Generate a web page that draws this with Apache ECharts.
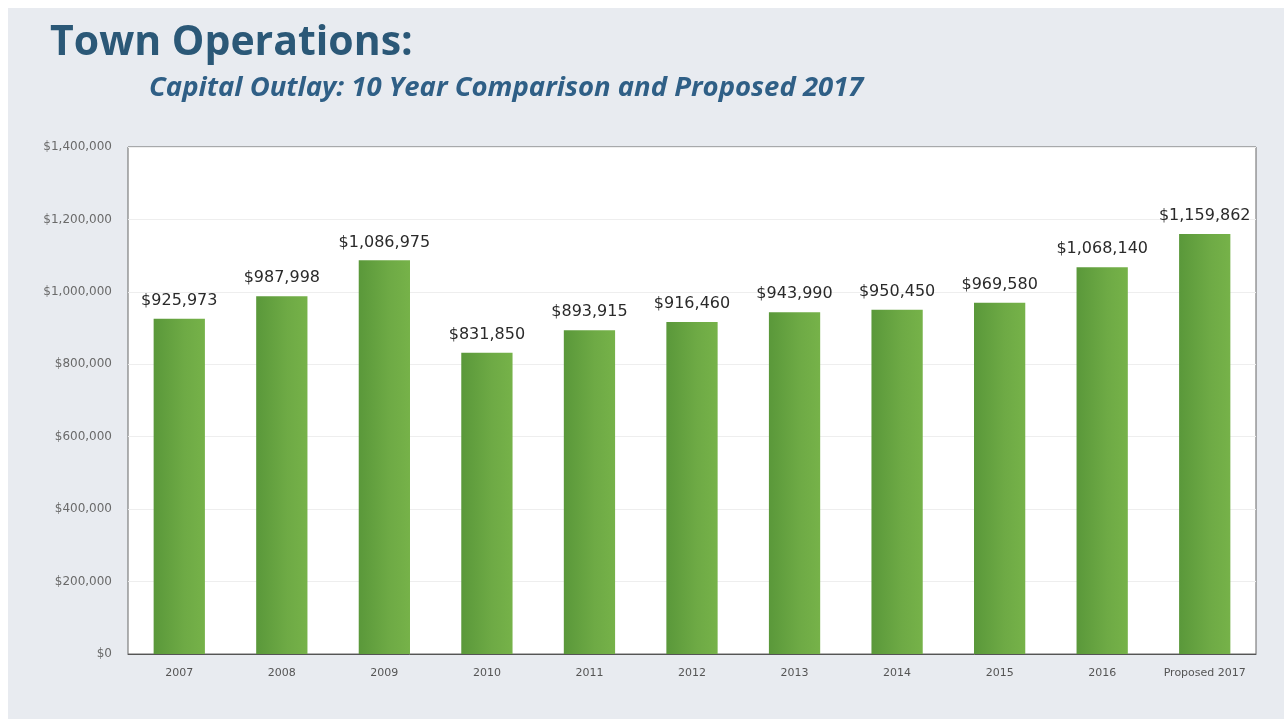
<!DOCTYPE html>
<html>
<head>
<meta charset="utf-8">
<script src="https://cdn.jsdelivr.net/npm/echarts@6/dist/echarts.min.js"></script>
<style>
  html, body { margin: 0; padding: 0; background: #ffffff; }
  #chart { width: 1284px; height: 719px; }
</style>
</head>
<body>
<div id="chart"></div>
<script>
// Capital outlay by year, with the proposed 2017 figure
const categories = ['2007', '2008', '2009', '2010', '2011', '2012', '2013', '2014', '2015', '2016', 'Proposed 2017'];
const outlay = [925973, 987998, 1086975, 831850, 893915, 916460, 943990, 950450, 969580, 1068140, 1159862];
const yTicks = [0, 200000, 400000, 600000, 800000, 1000000, 1200000, 1400000];

const money = v => '$' + v.toLocaleString('en-US');

const chart = echarts.init(document.getElementById('chart'), null, { renderer: 'canvas' });

chart.setOption({
  backgroundColor: '#ffffff',
  animation: false,
  graphic: [
    // slide-style panel behind the chart
    { type: 'rect', z: -10, shape: { x: 8, y: 8, width: 1276, height: 711 }, style: { fill: '#e8ebf0' } }
  ],
  title: [
    {
      text: 'Town Operations:',
      left: 45, top: 18,
      textStyle: { fontFamily: 'Open Sans', fontWeight: 'bold', fontSize: 41, color: '#2b5877' }
    },
    {
      text: 'Capital Outlay: 10 Year Comparison and Proposed 2017',
      left: 144, top: 70,
      textStyle: { fontFamily: 'Open Sans', fontWeight: 'bold', fontStyle: 'italic', fontSize: 27.5, color: '#2f5f86' }
    }
  ],
  grid: {
    left: 128, right: 28, top: 147, bottom: 65,
    show: true, backgroundColor: '#ffffff', borderColor: '#666666', borderWidth: 1
  },
  xAxis: {
    type: 'category',
    data: categories,
    axisLine: { show: true, lineStyle: { color: '#555555' } },
    axisTick: { show: false },
    axisLabel: { interval: 0, fontFamily: 'DejaVu Sans', fontSize: 11, color: '#555555', margin: 14 }
  },
  yAxis: {
    type: 'value',
    min: 0, max: 1400000, interval: 200000,
    axisLine: { show: false },
    axisTick: { show: false },
    splitLine: { lineStyle: { color: '#eeeeee', width: 1 } },
    axisLabel: {
      fontFamily: 'DejaVu Sans', fontSize: 12, color: '#6a6a6a', margin: 16,
      formatter: v => yTicks.includes(v) ? money(v) : ''
    }
  },
  series: [{
    type: 'bar',
    data: outlay,
    barWidth: '50%',
    itemStyle: {
      color: new echarts.graphic.LinearGradient(0, 0, 1, 0, [
        { offset: 0, color: '#5a983a' },
        { offset: 0.6, color: '#6eaa45' },
        { offset: 1, color: '#76b249' }
      ])
    },
    label: {
      show: true,
      position: 'top',
      distance: 10,
      fontFamily: 'DejaVu Sans', fontSize: 16, color: '#2a2a2a',
      formatter: p => money(p.value)
    }
  }]
});
</script>
</body>
</html>
